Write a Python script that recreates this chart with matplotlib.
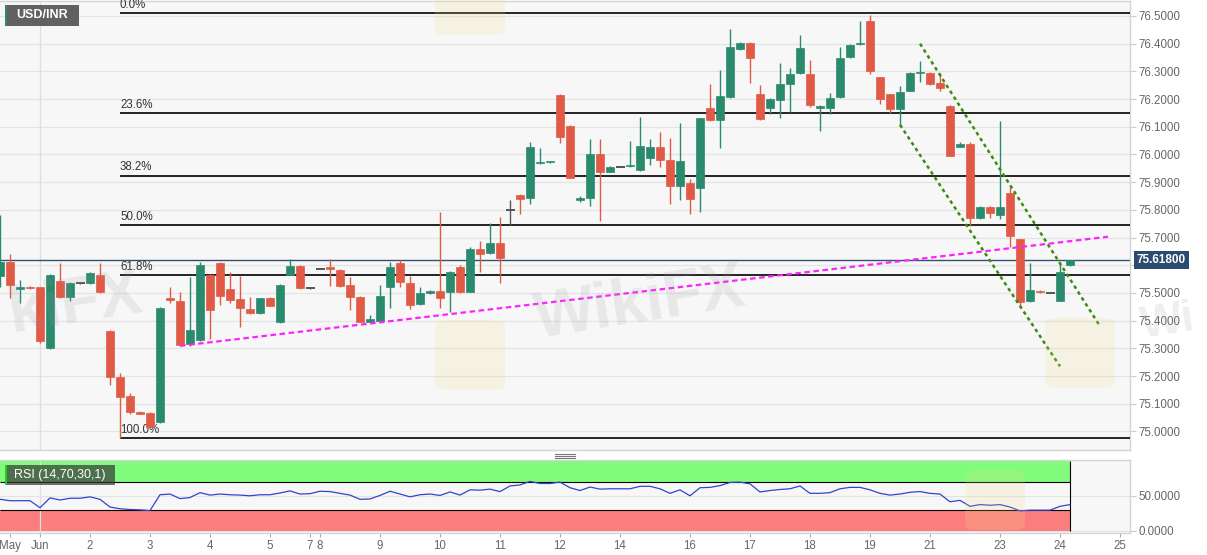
import numpy as np
import matplotlib.pyplot as plt
from matplotlib.patches import Rectangle, FancyBboxPatch
from matplotlib.lines import Line2D
import matplotlib.transforms as mtransforms

plt.rcParams['font.family'] = ['Liberation Sans', 'DejaVu Sans']

# 4h candles, one per slot (index 0..107)
opens = [75.56, 75.61, 75.515, 75.522, 75.52, 75.30, 75.543, 75.485, 75.535, 75.535,
         75.565, 75.364, 75.198, 75.129, 75.069, 75.066, 75.033, 75.483, 75.47, 75.316,
         75.33, 75.565, 75.607, 75.513, 75.477, 75.442, 75.427, 75.483, 75.394, 75.565,
         75.597, 75.517, 75.587, 75.593, 75.583, 75.529, 75.487, 75.396, 75.40, 75.521,
         75.607, 75.537, 75.46, 75.501, 75.507, 75.505, 75.593, 75.505, 75.658, 75.643,
         75.679, 75.80, 75.854, 75.842, 75.968, 75.972, 76.215, 76.103, 75.837, 75.844,
         76.002, 75.938, 75.956, 75.958, 75.944, 75.986, 76.028, 75.98, 75.887, 75.896,
         75.88, 76.169, 76.125, 76.209, 76.380, 76.404, 76.218, 76.167, 76.197, 76.255,
         76.293, 76.291, 76.167, 76.167, 76.207, 76.351, 76.397, 76.483, 76.279, 76.218,
         76.164, 76.230, 76.294, 76.295, 76.259, 76.175, 76.028, 76.038, 75.770, 75.812,
         75.782, 75.860, 75.694, 75.472, 75.507, 75.501, 75.472, 75.601]
highs = [75.78, 75.64, 75.547, 75.524, 75.522, 75.567, 75.607, 75.54, 75.537, 75.575,
         75.607, 75.366, 75.212, 75.138, 75.072, 75.07, 75.45, 75.52, 75.505, 75.559,
         75.61, 75.57, 75.61, 75.577, 75.561, 75.487, 75.483, 75.486, 75.531, 75.622,
         75.60, 75.519, 75.589, 75.623, 75.585, 75.557, 75.489, 75.42, 75.529, 75.613,
         75.62, 75.561, 75.523, 75.51, 75.793, 75.579, 75.601, 75.665, 75.689, 75.751,
         75.775, 75.836, 75.856, 76.046, 76.022, 75.976, 76.217, 76.105, 75.85, 76.055,
         76.055, 75.958, 75.958, 76.05, 76.134, 76.055, 76.082, 76.058, 76.113, 75.91,
         76.133, 76.253, 76.305, 76.452, 76.406, 76.406, 76.251, 76.205, 76.329, 76.311,
         76.431, 76.341, 76.178, 76.223, 76.387, 76.398, 76.483, 76.504, 76.281, 76.22,
         76.247, 76.297, 76.339, 76.297, 76.295, 76.177, 76.046, 76.046, 75.814, 75.814,
         76.119, 75.884, 75.696, 75.609, 75.512, 75.503, 75.609, 75.620]
lows = [75.52, 75.48, 75.463, 75.516, 75.32, 75.298, 75.48, 75.47, 75.533, 75.533,
        75.50, 75.168, 74.977, 75.063, 75.062, 75.015, 75.03, 75.463, 75.31, 75.31,
        75.325, 75.335, 75.457, 75.463, 75.378, 75.425, 75.425, 75.452, 75.39, 75.563,
        75.515, 75.515, 75.585, 75.525, 75.523, 75.439, 75.394, 75.394, 75.398, 75.445,
        75.52, 75.441, 75.458, 75.497, 75.445, 75.433, 75.50, 75.503, 75.577, 75.641,
        75.537, 75.745, 75.785, 75.821, 75.966, 75.970, 76.040, 75.914, 75.83, 75.814,
        75.761, 75.936, 75.954, 75.956, 75.942, 75.962, 75.956, 75.821, 75.836, 75.785,
        75.793, 76.12, 76.022, 76.205, 76.378, 76.259, 76.125, 76.145, 76.131, 76.155,
        76.29, 76.170, 76.085, 76.146, 76.205, 76.349, 76.395, 76.291, 76.181, 76.151,
        76.107, 76.228, 76.263, 76.251, 76.230, 75.994, 76.026, 75.740, 75.768, 75.770,
        75.767, 75.667, 75.450, 75.468, 75.500, 75.499, 75.470, 75.599]
closes = [75.61, 75.53, 75.523, 75.518, 75.325, 75.565, 75.485, 75.535, 75.535, 75.573,
          75.505, 75.198, 75.126, 75.071, 75.064, 75.017, 75.445, 75.475, 75.312, 75.367,
          75.60, 75.44, 75.49, 75.475, 75.445, 75.427, 75.481, 75.454, 75.529, 75.597,
          75.517, 75.517, 75.587, 75.586, 75.525, 75.487, 75.396, 75.405, 75.49, 75.593,
          75.54, 75.457, 75.501, 75.508, 75.483, 75.577, 75.502, 75.658, 75.641, 75.679,
          75.627, 75.80, 75.839, 76.028, 75.970, 75.974, 76.064, 75.916, 75.841, 76.002,
          75.938, 75.956, 75.956, 75.962, 76.031, 76.028, 75.98, 75.887, 75.978, 75.839,
          76.131, 76.125, 76.212, 76.387, 76.404, 76.347, 76.127, 76.199, 76.253, 76.291,
          76.383, 76.177, 76.175, 76.205, 76.347, 76.395, 76.399, 76.301, 76.200, 76.164,
          76.227, 76.293, 76.296, 76.253, 76.241, 75.996, 76.038, 75.770, 75.812, 75.790,
          75.812, 75.706, 75.469, 75.511, 75.502, 75.501, 75.577, 75.618]

rsi = [45, 43, 43, 43, 33, 47, 44, 46.5, 46.5, 48.5,
       45, 34, 31.5, 30.5, 30, 29, 51.5, 52.5, 46, 47.5,
       54.5, 51, 52.5, 51.5, 51, 50, 51.5, 51.5, 54, 57,
       52.5, 53, 56.5, 56, 53.5, 51, 45, 45.5, 50.5, 56.5,
       52.5, 48.5, 51.5, 52.5, 50.5, 55.5, 51, 58.5, 58, 59.5,
       56, 64, 65.5, 70.5, 67.5, 67.5, 69.5, 61.5, 57.5, 62.5,
       59.5, 60, 60, 60, 63.5, 63.5, 60, 53.5, 58.5, 50,
       61.5, 62, 64.5, 69, 69.5, 67, 55.5, 57.5, 59, 60,
       64, 53.5, 53.5, 54.5, 60, 62, 62, 58.5, 53.5, 51,
       52.5, 55, 56, 53.5, 52.5, 41.5, 43.5, 35, 37.5, 36.5,
       37.5, 34, 28.5, 29.5, 29.5, 29.5, 35, 37.5]

fib_labels = ["0.0%", "23.6%", "38.2%", "50.0%", "61.8%", "100.0%"]
fib_levels = [76.510, 76.148, 75.924, 75.744, 75.563, 74.977]

price_ticks = [75.0, 75.1, 75.2, 75.3, 75.4, 75.5, 75.6, 75.7, 75.8, 75.9,
               76.0, 76.1, 76.2, 76.3, 76.4, 76.5]

tick_pos = [1, 4, 9, 15, 21, 27, 31, 32, 38, 44, 50, 56, 62, 69, 75, 81, 87, 93, 100, 106, 112]
tick_lbl = ["May", "Jun", "2", "3", "4", "5", "7", "8", "9", "10", "11", "12",
            "14", "16", "17", "18", "19", "21", "23", "24", "25"]

trend_x = [18, 110.8]
trend_y = [75.309, 75.703]
chan_up_x = [92, 110]
chan_up_y = [76.40, 75.38]
chan_lo_x = [90, 106]
chan_lo_y = [76.107, 75.235]

last_price = 75.618

GREEN = "#2a8a6e"
RED = "#e05a45"
DOJI = "#555555"

W, H = 1207, 555
fig = plt.figure(figsize=(W / 100, H / 100), dpi=100, facecolor="white")


def fig_box(x0, y0, x1, y1, **kw):
    # rectangle given in picture pixels (top-left origin)
    r = Rectangle((x0 / W, 1 - y1 / H), (x1 - x0) / W, (y1 - y0) / H,
                  transform=fig.transFigure, **kw)
    fig.add_artist(r)
    return r


ax = fig.add_axes([0, 1 - 450 / H, 1130 / W, 449 / H])
axr = fig.add_axes([0, 1 - 533 / H, 1130 / W, 73 / H])

for a in (ax, axr):
    a.set_facecolor("#f7f7f7")
    a.set_xlim(0, 113)
    a.spines["left"].set_visible(False)
    for s in ("right", "top", "bottom"):
        a.spines[s].set_color("#d4d4d4")
        a.spines[s].set_linewidth(1)
    a.yaxis.tick_right()
    a.tick_params(axis="y", colors="#cccccc", labelcolor="#666666", labelsize=8.3, length=4, pad=2)

ax.set_ylim(74.933, 76.554)
ax.set_yticks(price_ticks)
# the 75.6000 label sits under the price tag
ax.set_yticklabels(["" if abs(v - 75.6) < 1e-6 else "%.4f" % v for v in price_ticks])
ax.set_xticks([])
ax.grid(axis="y", color="#e4e4e4", lw=0.9)
ax.axvline(4, color="#dedede", lw=0.9)
ax.set_axisbelow(True)

# watermarks (only the visible parts)
fig.text(640 / W, 1 - 305 / H, "WikiFX", fontsize=46, fontweight="bold", color="#999999",
         alpha=0.16, rotation=9, ha="center", va="center")
fig.text(4 / W, 1 - 305 / H, "kiFX", fontsize=46, fontweight="bold", color="#999999",
         alpha=0.16, rotation=9, ha="left", va="center")
fig.text(1138 / W, 1 - 322 / H, "Wi", fontsize=32, fontweight="bold", color="#999999",
         alpha=0.16, rotation=9, ha="left", va="center")
for (bx, by, bw, bh) in [(435, 320, 70, 70), (1045, 318, 70, 70), (435, -40, 70, 75), (965, 470, 60, 60)]:
    fig.add_artist(FancyBboxPatch((bx / W, 1 - (by + bh) / H), bw / W, bh / H,
                                  boxstyle="round,pad=0,rounding_size=0.01",
                                  transform=fig.transFigure, fc="#f3dc8a", ec="none", alpha=0.18))

# fibonacci levels
for lbl, lev in zip(fib_labels, fib_levels):
    ax.hlines(lev, 12, 113, color="black", lw=1.2, zorder=3)
    ax.text(12, lev + 0.008, lbl, fontsize=8.3, color="#333333", ha="left", va="bottom", zorder=3)

# current price line
ax.axhline(last_price, color="#34506e", lw=1, zorder=2)

# candles
x = np.arange(len(opens))
for i in x:
    o, h, l, c = opens[i], highs[i], lows[i], closes[i]
    if abs(c - o) < 1e-6:
        col = DOJI
    elif c > o:
        col = GREEN
    else:
        col = RED
    ax.vlines(i, l, h, color=col, lw=1, zorder=4)
    bot = min(o, c)
    hgt = max(abs(c - o), 0.004)
    if col == DOJI:
        ax.hlines(o, i - 0.45, i + 0.45, color=col, lw=1.4, zorder=4)
    else:
        ax.bar(i, hgt, bottom=bot, width=0.8, color=col, edgecolor=col, lw=0.5, zorder=4)

# trend lines
ax.plot(trend_x, trend_y, color="#ff22ff", lw=1.6, ls=(0, (2.5, 1.6)), zorder=5)
ax.plot(chan_up_x, chan_up_y, color="#3a8c0a", lw=1.8, ls=(0, (1.4, 1.4)), zorder=5)
ax.plot(chan_lo_x, chan_lo_y, color="#3a8c0a", lw=1.8, ls=(0, (1.4, 1.4)), zorder=5)

# price tag on axis
trans = mtransforms.blended_transform_factory(ax.transAxes, ax.transData)
ax.text(1.006, last_price, "%.5f" % last_price, transform=trans, fontsize=8.5, fontweight="bold",
        color="white", ha="left", va="center", zorder=10, clip_on=False,
        bbox=dict(boxstyle="square,pad=0.25", fc="#2b4a6f", ec="none"))

# title box
fig_box(5, 5, 79, 26, fc="#616161", ec="none", zorder=20)
fig_box(5, 5, 7, 26, fc=GREEN, ec="none", zorder=21)
fig.text(16 / W, 1 - 15.5 / H, "USD/INR", fontsize=9, fontweight="bold", color="white",
         ha="left", va="center", zorder=22)

# RSI panel
axr.set_ylim(-3, 101)
axr.set_yticks([0, 50])
axr.set_yticklabels(["0.0000", "50.0000"])
axr.grid(axis="y", color="#e4e4e4", lw=0.9)
axr.axvline(4, color="#dedede", lw=0.9)
axr.set_axisbelow(True)
axr.add_patch(Rectangle((0, 70), 107, 30, fc="#80fb7c", ec="none", zorder=1))
axr.add_patch(Rectangle((0, 0), 107, 30, fc="#fc7d7d", ec="none", zorder=1))
axr.hlines([70, 30], 0, 107, color="black", lw=0.8, zorder=2)
axr.vlines(107, 0, 100, color="black", lw=0.8, zorder=2)
axr.plot(x, rsi, color="#3344cc", lw=0.9, zorder=3)
axr.set_xticks(tick_pos)
axr.set_xticklabels(tick_lbl)
axr.tick_params(axis="x", colors="#aaaaaa", labelcolor="#666666", labelsize=8.3, length=3, pad=2)

fig_box(5, 465, 115, 485, fc="#3a3a3a", ec="none", alpha=0.72, zorder=20)
fig_box(5, 465, 7, 485, fc="#22cc22", ec="none", zorder=21)
fig.text(14 / W, 1 - 475 / H, "RSI (14,70,30,1)", fontsize=9, color="white",
         ha="left", va="center", zorder=22)

# panel separator handle
for yy in (454, 456, 458):
    fig.add_artist(Line2D([555 / W, 575 / W], [1 - yy / H, 1 - yy / H], color="#777777", lw=0.8))

fig.savefig("out.png", dpi=100, facecolor="white")
